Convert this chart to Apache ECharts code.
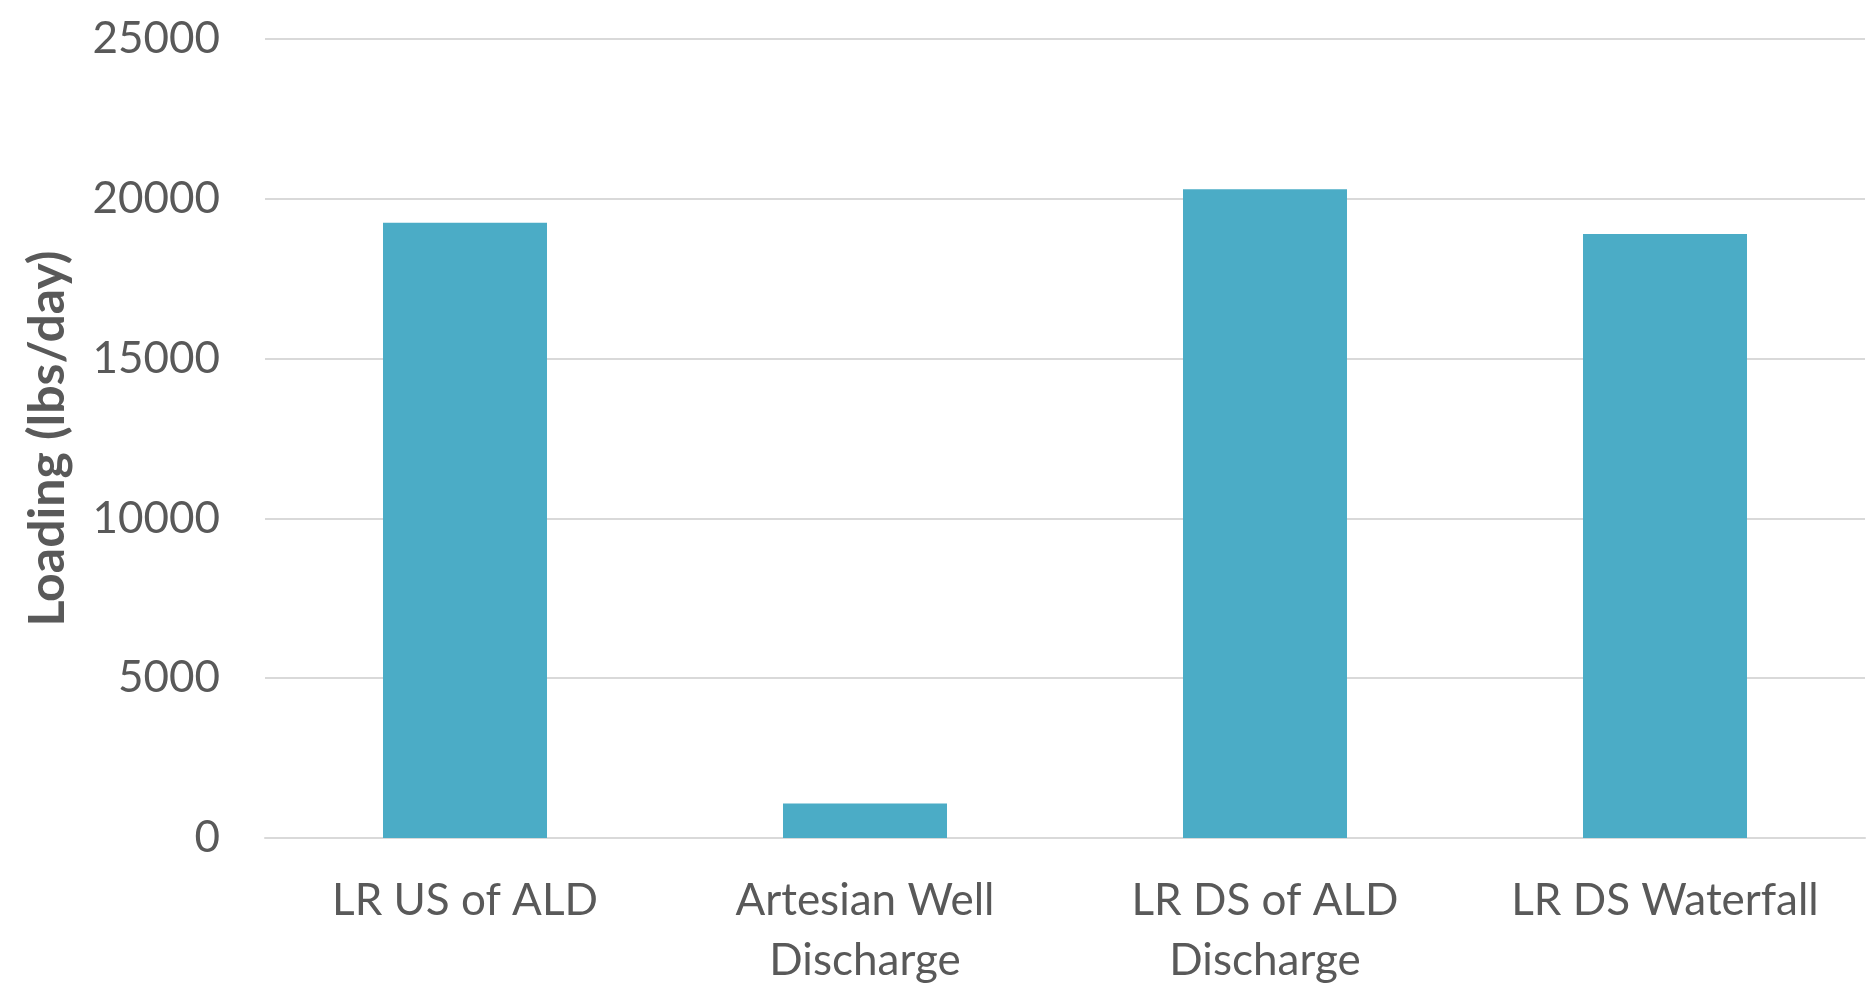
<!DOCTYPE html>
<html>
<head>
<meta charset="utf-8">
<script src="https://cdn.jsdelivr.net/npm/echarts@6/dist/echarts.min.js"></script>
<style>
html,body{margin:0;padding:0;background:#fff;}
#chart{width:1871px;height:995px;}
</style>
</head>
<body>
<div id="chart"></div>
<script>
const categories = ["LR US of ALD", "Artesian Well\nDischarge", "LR DS of ALD\nDischarge", "LR DS Waterfall"];
const loadingValues = [19250, 1080, 20300, 18900];
const yTicks = [0, 5000, 10000, 15000, 20000, 25000];
const yAxisTitle = "Loading (lbs/day)";

const chart = echarts.init(document.getElementById('chart'));
chart.setOption({
  animation: false,
  backgroundColor: '#ffffff',
  grid: { left: 265, right: 6, top: 39, bottom: 157, containLabel: false },
  xAxis: {
    type: 'category',
    data: categories,
    axisLine: { show: true, lineStyle: { color: '#d9d9d9', width: 2 } },
    axisTick: { show: false },
    axisLabel: {
      interval: 0,
      margin: 33,
      color: '#595959',
      fontFamily: 'Lato',
      fontSize: 44,
      lineHeight: 60
    }
  },
  yAxis: {
    type: 'value',
    min: yTicks[0],
    max: yTicks[yTicks.length - 1],
    interval: 5000,
    name: yAxisTitle,
    nameLocation: 'middle',
    nameGap: 192,
    nameTextStyle: {
      color: '#595959',
      fontFamily: 'Lato',
      fontWeight: 'bold',
      fontSize: 50
    },
    axisLine: { show: false },
    axisTick: { show: false },
    splitLine: { show: true, lineStyle: { color: '#d9d9d9', width: 2 } },
    axisLabel: {
      margin: 45,
      color: '#595959',
      fontFamily: 'Lato',
      fontSize: 44,
      formatter: function (v) { return String(v); }
    }
  },
  series: [{
    type: 'bar',
    data: loadingValues,
    barWidth: '41%',
    itemStyle: { color: '#4BACC6' }
  }]
});
</script>
</body>
</html>
